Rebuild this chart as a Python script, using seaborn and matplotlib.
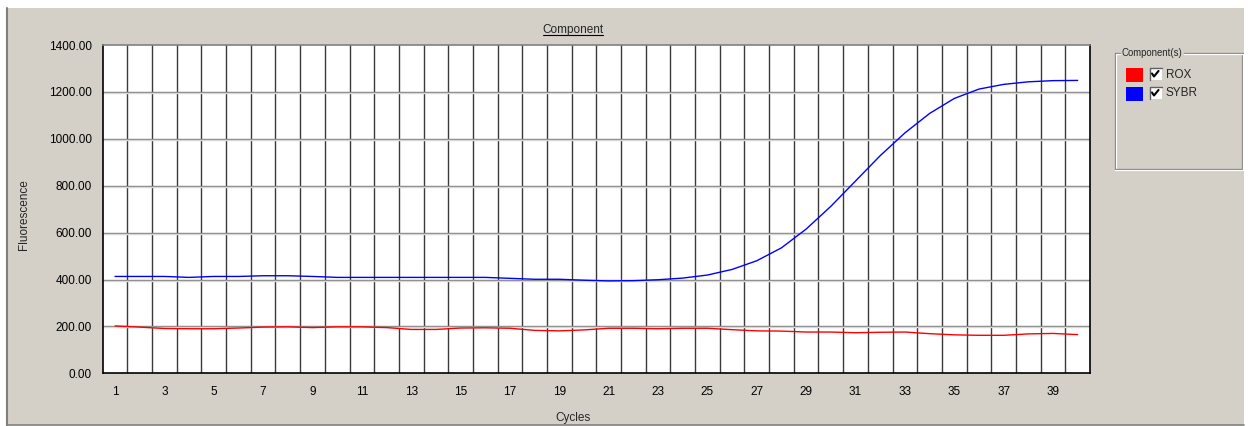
import numpy as np
import pandas as pd
import matplotlib
matplotlib.use("Agg")
import matplotlib.pyplot as plt
from matplotlib.patches import Rectangle
from matplotlib.lines import Line2D
from matplotlib.ticker import FixedLocator, FuncFormatter
import seaborn as sns

# ---------------- data ----------------
cycles = list(range(1, 41))
rox = [202, 197, 191, 190, 190, 193, 197, 198, 195, 198,
       198, 195, 187, 187, 193, 194, 192, 183, 181, 185,
       192, 192, 190, 192, 192, 186, 181, 180, 176, 176,
       173, 175, 176, 169, 164, 162, 162, 168, 170, 165]
sybr = [413, 413, 413, 409, 413, 413, 416, 416, 413, 409,
        409, 409, 409, 409, 409, 409, 405, 401, 401, 397,
        394, 395, 399, 406, 419, 443, 480, 535, 615, 712,
        820, 928, 1025, 1108, 1172, 1212, 1232, 1243, 1248, 1249]
components = ["ROX", "SYBR"]
colors = {"ROX": "#ff0000", "SYBR": "#0000ff"}
y_ticks = [0, 200, 400, 600, 800, 1000, 1200, 1400]
x_ticks = list(range(1, 40, 2))
title = "Component"
x_label = "Cycles"
y_label = "Fluorescence"
legend_title = "Component(s)"

df = pd.DataFrame({
    "Cycle": cycles * 2,
    "Fluorescence": rox + sybr,
    "Component": ["ROX"] * len(cycles) + ["SYBR"] * len(cycles),
})

# ---------------- style ----------------
sns.set_theme(style="white")
plt.rcParams["font.family"] = ["Liberation Sans", "DejaVu Sans"]
plt.rcParams["font.size"] = 8.5

W, H = 1251, 426
BG = "#d4d0c8"
fig = plt.figure(figsize=(W / 100, H / 100), dpi=100)
fig.patch.set_facecolor("white")


def fx(px):
    return px / W


def fy(py):
    return 1 - py / H


# grey panel
fig.add_artist(Rectangle((fx(7), fy(425)), fx(1244 - 7), (425 - 8) / H,
                         transform=fig.transFigure, facecolor=BG,
                         edgecolor="none", zorder=-10))
fig.add_artist(Line2D([fx(7), fx(7)], [fy(8), fy(426)], transform=fig.transFigure,
                      color="#808080", lw=1.5))
fig.add_artist(Line2D([fx(7), fx(1244)], [fy(425), fy(425)], transform=fig.transFigure,
                      color="#808080", lw=1.2))

ax = fig.add_axes([fx(102.7), fy(373.3), fx(1090 - 102.7), (373.3 - 45) / H])
ax.set_facecolor("white")

sns.lineplot(data=df, x="Cycle", y="Fluorescence", hue="Component",
             hue_order=components, palette=colors, legend=False,
             linewidth=1.0, ax=ax, zorder=5)

ax.set_xlim(0.5, 40.5)
ax.set_ylim(0, 1400)
ax.xaxis.set_major_locator(FixedLocator(x_ticks))
ax.xaxis.set_minor_locator(FixedLocator([c + 0.5 for c in cycles[:-1]]))
ax.yaxis.set_major_locator(FixedLocator(y_ticks))
ax.yaxis.set_major_formatter(FuncFormatter(lambda v, p: f"{v:.2f}"))
ax.tick_params(axis="both", which="both", length=0, labelsize=8.5,
               colors="#000000")
ax.tick_params(axis="y", pad=8)
ax.tick_params(axis="x", pad=9)
ax.set_xlabel("")
ax.set_ylabel("")

ax.grid(False)
ax.xaxis.grid(True, which="minor", color="#3a3a3a", lw=1.0)
for v in y_ticks[1:-1]:
    ax.axhline(v, color="#808080", lw=1.0, zorder=1)
    ax.axhline(v - 4.5, color="#d8d8d8", lw=1.0, zorder=1)

for s in ["left", "bottom", "right"]:
    ax.spines[s].set_color("#000000")
    ax.spines[s].set_linewidth(1.2)
ax.spines["top"].set_color("#808080")
ax.spines["top"].set_linewidth(1.2)

# titles / labels
fig.text(fx(573), fy(29.5), title, ha="center", va="center", fontsize=8.5)
fig.add_artist(Line2D([fx(543), fx(603)], [fy(34.5), fy(34.5)],
                      transform=fig.transFigure, color="#000000", lw=0.8))
fig.text(fx(573), fy(418), x_label, ha="center", va="center", fontsize=8.5)
fig.text(fx(24), fy(215), y_label, ha="center", va="center", rotation=90,
         fontsize=8.5)

# legend group box
bx0, by0, bx1, by1 = 1114.5, 53, 1243, 169
for (xa, ya, xb, yb, c) in [
    (bx0, by0, bx0, by1, "#808080"), (bx0 + 1, by0 + 1, bx0 + 1, by1 - 1, "#ffffff"),
    (bx0, by1, bx1, by1, "#808080"), (bx0, by1 + 1, bx1, by1 + 1, "#ffffff"),
    (bx1 - 1, by0, bx1 - 1, by1, "#808080"), (bx1, by0, bx1, by1 + 1, "#ffffff"),
    (bx0, by0, 1120, by0, "#808080"), (bx0 + 1, by0 + 1, 1120, by0 + 1, "#ffffff"),
    (1184, by0, bx1, by0, "#808080"), (1184, by0 + 1, bx1, by0 + 1, "#ffffff"),
]:
    fig.add_artist(Line2D([fx(xa), fx(xb)], [fy(ya), fy(yb)],
                          transform=fig.transFigure, color=c, lw=0.9))
fig.text(fx(1122), fy(53.5), legend_title, ha="left", va="center", fontsize=6.9)

for i, name in enumerate(components):
    top = 67.5 + i * 19
    fig.add_artist(Rectangle((fx(1126), fy(top + 14.5)), fx(16.5), 14.5 / H,
                             transform=fig.transFigure, facecolor=colors[name],
                             edgecolor="none"))
    # checkbox
    cx0, cy0 = 1149.5, top + 0.5
    fig.add_artist(Rectangle((fx(cx0), fy(cy0 + 12)), fx(12), 12 / H,
                             transform=fig.transFigure, facecolor="white",
                             edgecolor="none"))
    fig.add_artist(Line2D([fx(cx0), fx(cx0), fx(cx0 + 12)],
                          [fy(cy0 + 12), fy(cy0), fy(cy0)],
                          transform=fig.transFigure, color="#606060", lw=1.0))
    fig.add_artist(Line2D([fx(cx0 + 2.5), fx(cx0 + 4.5), fx(cx0 + 9)],
                          [fy(cy0 + 5.5), fy(cy0 + 8.5), fy(cy0 + 3)],
                          transform=fig.transFigure, color="#000000", lw=1.5))
    fig.text(fx(1166), fy(top + 7), name, ha="left", va="center", fontsize=8.5)

fig.savefig("out.png", dpi=100, facecolor=fig.get_facecolor())
